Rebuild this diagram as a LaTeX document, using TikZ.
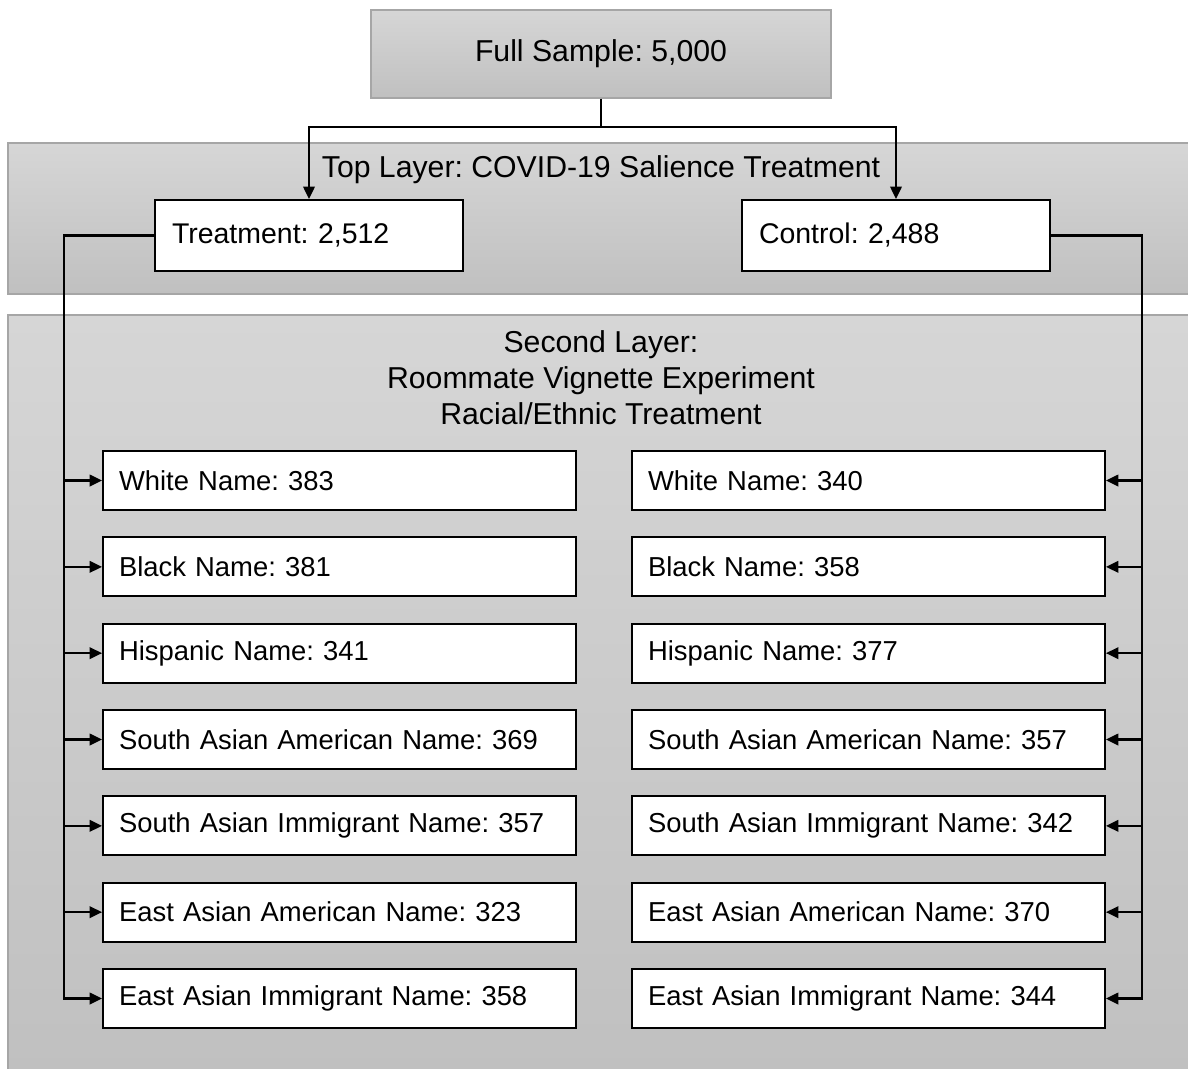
\documentclass[tikz,border=0pt]{standalone}
\usepackage{fontspec}
\setmainfont{Liberation Sans}
\usetikzlibrary{positioning,arrows.meta}
\definecolor{shadetop}{HTML}{D6D6D6}
\definecolor{shadebot}{HTML}{C0C0C0}
\definecolor{edgegray}{HTML}{A6A6A6}
\frenchspacing

\begin{document}
\begin{tikzpicture}[x=0.02cm, y=-0.02cm, node distance=1.727cm,
    >={Triangle[length=0.25cm,width=0.23cm]},
    font=\fontsize{15.6}{19}\selectfont,
    panel/.style={draw=edgegray, line width=0.8pt, top color=shadetop, bottom color=shadebot, minimum width=23.74cm},
    titletext/.style={font=\fontsize{17.2}{20.2}\selectfont, align=center},
    namebox/.style={draw, line width=1.1pt, fill=white, minimum width=9.46cm, minimum height=1.18cm, text width=8.82cm, inner xsep=0.32cm, align=left},
    armbox/.style={draw, line width=1.1pt, fill=white, minimum width=6.16cm, minimum height=1.42cm, text width=5.48cm, inner xsep=0.34cm, align=left, font=\fontsize{16.2}{19}\selectfont},
    link/.style={line width=1.3pt}]
    \useasboundingbox (0,0) rectangle (1188,1069);

    % Layers
    \node[panel, minimum height=3.02cm] (toplayer) at (601.5,218.5) {};
    \node[panel, minimum height=15.2cm] (secondlayer) at (601.5,695) {};
    \node[titletext] (toptitle) at (601,170) {Top Layer: COVID-19 Salience Treatment};
    \node[titletext, font=\fontsize{17.2}{20.4}\selectfont] (secondtitle) at (601,378) {Second Layer:\\Roommate Vignette Experiment\\Racial/Ethnic Treatment};

    % Nodes
    \node[titletext, draw=edgegray, line width=0.8pt, top color=shadetop, bottom color=shadebot, minimum width=9.2cm, minimum height=1.76cm] (full) at (601,54) {Full Sample: 5,000};
    \node[armbox] (treat) at (309,235.5) {Treatment: 2,512};
    \node[armbox] (ctrl) at (896,235.5) {Control: 2,488};

    \node[namebox] (wl1) at (339.5,480.5) {White Name: 383};
    \node[namebox, below of=wl1] (wl2) {Black Name: 381};
    \node[namebox, below of=wl2] (wl3) {Hispanic Name: 341};
    \node[namebox, below of=wl3] (wl4) {South Asian American Name: 369};
    \node[namebox, below of=wl4] (wl5) {South Asian Immigrant Name: 357};
    \node[namebox, below of=wl5] (wl6) {East Asian American Name: 323};
    \node[namebox, below of=wl6] (wl7) {East Asian Immigrant Name: 358};

    \node[namebox] (wr1) at (868.5,480.5) {White Name: 340};
    \node[namebox, below of=wr1] (wr2) {Black Name: 358};
    \node[namebox, below of=wr2] (wr3) {Hispanic Name: 377};
    \node[namebox, below of=wr3] (wr4) {South Asian American Name: 357};
    \node[namebox, below of=wr4] (wr5) {South Asian Immigrant Name: 342};
    \node[namebox, below of=wr5] (wr6) {East Asian American Name: 370};
    \node[namebox, below of=wr6] (wr7) {East Asian Immigrant Name: 344};

    % Arrows
    \coordinate (split) at (601,127);
    \coordinate (trunkL) at (64,235.5);
    \coordinate (trunkR) at (1142,235.5);
    \draw[link] (full) -- (split);
    \draw[link, ->] (split) -| (treat);
    \draw[link, ->] (split) -| (ctrl);

    \draw[link, ->] (treat) -- (trunkL) |- (wl7);
    \draw[link, ->] (trunkL |- wl1) -- (wl1);
    \draw[link, ->] (trunkL |- wl2) -- (wl2);
    \draw[link, ->] (trunkL |- wl3) -- (wl3);
    \draw[link, ->] (trunkL |- wl4) -- (wl4);
    \draw[link, ->] (trunkL |- wl5) -- (wl5);
    \draw[link, ->] (trunkL |- wl6) -- (wl6);

    \draw[link, ->] (ctrl) -- (trunkR) |- (wr7);
    \draw[link, ->] (trunkR |- wr1) -- (wr1);
    \draw[link, ->] (trunkR |- wr2) -- (wr2);
    \draw[link, ->] (trunkR |- wr3) -- (wr3);
    \draw[link, ->] (trunkR |- wr4) -- (wr4);
    \draw[link, ->] (trunkR |- wr5) -- (wr5);
    \draw[link, ->] (trunkR |- wr6) -- (wr6);
\end{tikzpicture}
\end{document}
